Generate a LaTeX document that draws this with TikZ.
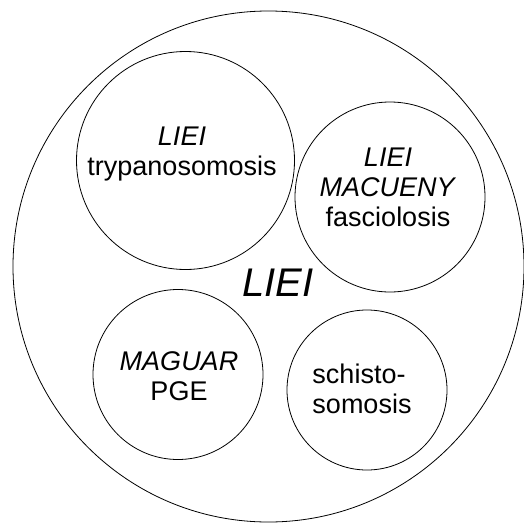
\documentclass[tikz,border=0pt]{standalone}
\usepackage{fontspec}
\setmainfont{Liberation Sans}

\begin{document}
\begin{tikzpicture}[x=1pt, y=-1pt,
		ring/.style={circle, draw=black, line width=0.8pt, inner sep=0pt},
		caption/.style={font=\fontsize{27}{30}\selectfont}]
		\useasboundingbox (0,0) rectangle (523,527);

		% circles
		\node[ring, minimum size=511pt] (whole) at (268.5,266.5) {};
		\node[ring, minimum size=218pt] (trypano) at (185.5,160.5) {};
		\node[ring, minimum size=190pt] (fascio) at (390,197) {};
		\node[ring, minimum size=170pt] (pge) at (178,374.5) {};
		\node[ring, minimum size=160pt] (schisto) at (367,390) {};

		% texts
		\node[caption, align=center] (trypanotext) at (182,154) {\textit{LIEI}\\trypanosomosis};
		\node[caption, align=center] (fasciotext) at (388,187) {\textit{LIEI}\\\textit{MACUENY}\\fasciolosis};
		\node[caption, align=center] (pgetext) at (179,376) {\textit{MAGUAR}\\PGE};
		\node[caption, align=left] (schistotext) at (362,389) {schisto-\\somosis};
		\node[font=\fontsize{40}{44}\selectfont\itshape] (wholetext) at (278,283) {LIEI};

	\end{tikzpicture}
\end{document}
